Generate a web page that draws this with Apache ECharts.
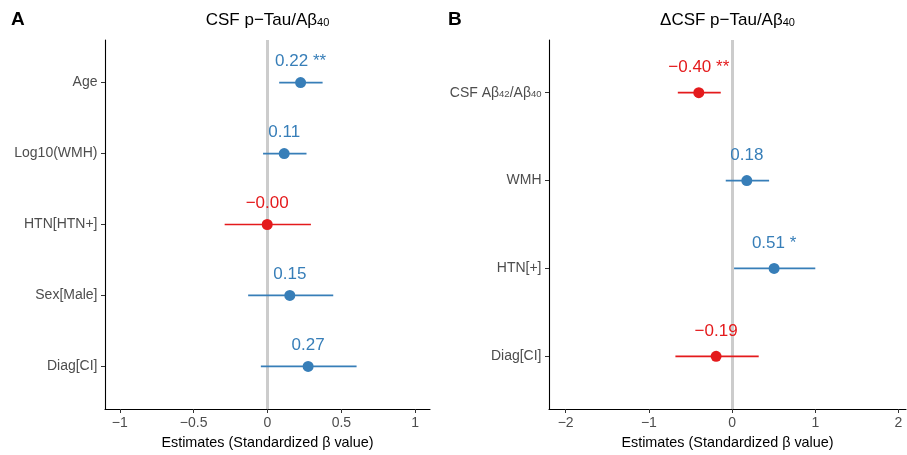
<!DOCTYPE html>
<html><head><meta charset="utf-8">
<script src="https://cdn.jsdelivr.net/npm/echarts@6/dist/echarts.min.js"></script>
<style>html,body{margin:0;padding:0;background:#fff}#c{width:907px;height:455px}</style>
</head><body><div id="c"></div>
<script>
// ---- Data ----
const catsA = ['Age', 'Log10(WMH)', 'HTN[HTN+]', 'Sex[Male]', 'Diag[CI]'];
const estA = [0.224, 0.113, -0.002, 0.151, 0.275];
const loA = [0.079, -0.030, -0.290, -0.131, -0.045];
const hiA = [0.373, 0.264, 0.294, 0.445, 0.603];
const labA = ['0.22 **', '0.11', '−0.00', '0.15', '0.27'];

const catsB = ['CSF Aβ{sub|42}/Aβ{sub|40}', 'WMH', 'HTN[+]', 'Diag[CI]'];
const estB = [-0.400, 0.177, 0.505, -0.192];
const loB = [-0.652, -0.076, 0.024, -0.681];
const hiB = [-0.136, 0.445, 1.000, 0.320];
const labB = ['−0.40 **', '0.18', '0.51 *', '−0.19'];

const ticksA = [-1, -0.5, 0, 0.5, 1];
const ticksB = [-2, -1, 0, 1, 2];

const BLUE = '#377EB8', RED = '#E41A1C';
const FONT = '"Liberation Sans", Arial, Helvetica, sans-serif';
const fmtNum = v => String(v).replace('-', '−');

function colorOf(v) { return v < 0 ? RED : BLUE; }

function makeAxes(gi, cats, ticks, xmin, xmax) {
  const n = cats.length;
  const idx = cats.map((_, i) => i + 1);
  const x = {
    type: 'value', gridIndex: gi, min: xmin, max: xmax,
    splitLine: { show: false },
    axisLine: { show: true, onZero: false, lineStyle: { color: '#000', width: 1.1 } },
    axisTick: { show: true, length: 4, customValues: ticks, lineStyle: { color: '#333', width: 1 } },
    axisLabel: { customValues: ticks, formatter: fmtNum, color: '#4d4d4d', fontSize: 14, fontFamily: FONT, margin: 7 },
    name: 'Estimates (Standardized β value)', nameLocation: 'middle', nameGap: 27,
    nameTextStyle: { color: '#000', fontSize: 14.4, fontFamily: FONT }
  };
  const y = {
    type: 'value', gridIndex: gi, min: 0.4, max: n + 0.6, inverse: true,
    splitLine: { show: false },
    axisLine: { show: true, onZero: false, lineStyle: { color: '#000', width: 1.1 } },
    axisTick: { show: true, length: 4, customValues: idx, lineStyle: { color: '#333', width: 1 } },
    axisLabel: {
      customValues: idx, formatter: v => cats[Math.round(v) - 1] || '',
      color: '#4d4d4d', fontSize: 14, fontFamily: FONT, margin: 7.5,
      rich: {
        sub: { fontSize: 9.5, color: '#4d4d4d', fontFamily: FONT, verticalAlign: 'bottom', lineHeight: 8 }
      }
    }
  };
  return [x, y];
}

function makeSeries(gi, est, lo, hi, lab, labOffset) {
  const ebData = est.map((e, i) => [lo[i], hi[i], i + 1, e]);
  const ptData = est.map((e, i) => ({
    value: [e, i + 1],
    itemStyle: { color: colorOf(e), opacity: 1 },
    label: { formatter: lab[i], color: colorOf(e) }
  }));
  return [
    {
      type: 'line', xAxisIndex: gi, yAxisIndex: gi, data: [], silent: true, z: 0,
      markLine: {
        silent: true, symbol: 'none', animation: false, z: 0,
        label: { show: false },
        emphasis: { disabled: true },
        lineStyle: { color: '#cccccc', width: 3, type: 'solid', opacity: 1 },
        data: [{ xAxis: 0 }]
      }
    },
    {
      type: 'custom', xAxisIndex: gi, yAxisIndex: gi, data: ebData, z: 5,
      renderItem: (params, api) => {
        const a = api.coord([api.value(0), api.value(2)]);
        const b = api.coord([api.value(1), api.value(2)]);
        return { type: 'line', shape: { x1: a[0], y1: a[1], x2: b[0], y2: b[1] },
          style: { stroke: colorOf(api.value(3)), lineWidth: 1.7 } };
      }
    },
    {
      type: 'scatter', xAxisIndex: gi, yAxisIndex: gi, data: ptData, symbolSize: 11, z: 10,
      itemStyle: { opacity: 1 },
      label: { show: true, position: 'inside', offset: [0, labOffset], fontSize: 17, fontFamily: FONT, opacity: 1 }
    }
  ];
}

const axA = makeAxes(0, catsA, ticksA, -1.1, 1.1);
const axB = makeAxes(1, catsB, ticksB, -2.2, 2.09);

const option = {
  animation: false,
  grid: [
    { left: 105, top: 40, width: 325, height: 369 },
    { left: 549, top: 40, width: 357, height: 369 }
  ],
  xAxis: [axA[0], axB[0]],
  yAxis: [axA[1], axB[1]],
  series: [].concat(
    makeSeries(0, estA, loA, hiA, labA, -21),
    makeSeries(1, estB, loB, hiB, labB, -25)
  ),
  graphic: [
    { type: 'text', left: 11, top: 10, style: { text: 'A', font: 'bold 19px ' + FONT, fill: '#000' } },
    { type: 'text', left: 448, top: 10, style: { text: 'B', font: 'bold 19px ' + FONT, fill: '#000' } },
    { type: 'text', x: 267.5, y: 20, style: {
        text: 'CSF p−Tau/Aβ{sub|40}', font: '17px ' + FONT, fill: '#000', align: 'center', verticalAlign: 'middle',
        rich: { sub: { font: '11px ' + FONT, fill: '#000', verticalAlign: 'bottom', lineHeight: 9 } } } },
    { type: 'text', x: 727.5, y: 20, style: {
        text: 'ΔCSF p−Tau/Aβ{sub|40}', font: '17px ' + FONT, fill: '#000', align: 'center', verticalAlign: 'middle',
        rich: { sub: { font: '11px ' + FONT, fill: '#000', verticalAlign: 'bottom', lineHeight: 9 } } } }
  ]
};

const chart = echarts.init(document.getElementById('c'), null, { renderer: 'canvas' });
chart.setOption(option);
</script>
</body></html>
